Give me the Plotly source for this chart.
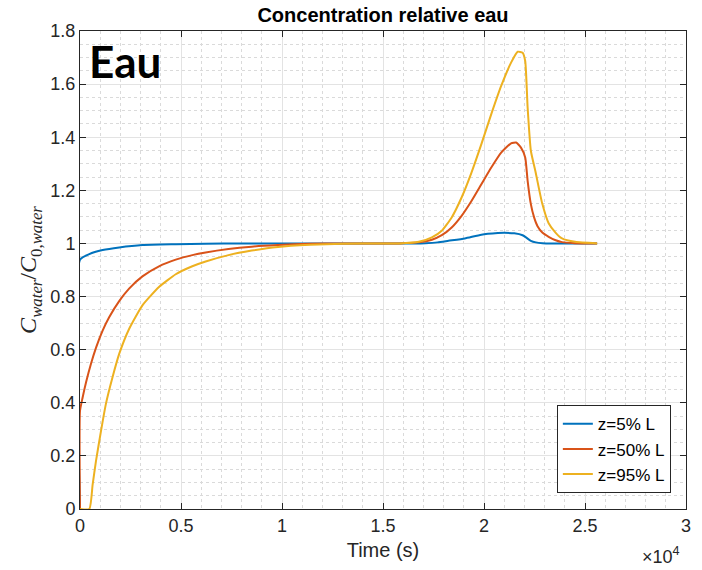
import plotly.graph_objects as go

# ---- data (time in s) ----
t_5 = [0, 0, 460, 1120, 1940, 3090, 4740, 6200, 8000, 10000, 15000, 16500, 17100, 17700,
       18240, 19050, 19870, 20690, 21010, 21500, 21910, 22075, 22320, 22565, 22900, 23400, 25600]
c_5 = [0, 0.939, 0.960, 0.975, 0.985, 0.994, 0.997, 0.999, 1.0, 1.0, 1.0, 1.0, 1.001, 1.004,
       1.010, 1.019, 1.033, 1.039, 1.040, 1.038, 1.031, 1.023, 1.010, 1.004, 1.001, 1.0, 1.0]

t_50 = [0, 0, 130, 300, 540, 790, 1120, 1450, 1940, 2430, 3090, 3910, 4740, 5560, 6220,
        7350, 8500, 9800, 11400, 13000, 15000, 15800, 16770, 17420, 17910, 18400, 18890, 19380,
        19870, 20360, 20850, 21340, 21590, 21830, 22040, 22160, 22320, 22480, 22650, 22900,
        23200, 23550, 23860, 24500, 25600]
c_50 = [0, 0.369, 0.42, 0.477, 0.546, 0.607, 0.672, 0.723, 0.783, 0.830, 0.876, 0.914, 0.939,
        0.956, 0.966, 0.979, 0.988, 0.994, 0.999, 1.0, 1.0, 1.0, 1.004, 1.014, 1.031, 1.060,
        1.104, 1.160, 1.223, 1.286, 1.342, 1.377, 1.380, 1.361, 1.324, 1.236, 1.148, 1.098,
        1.065, 1.040, 1.025, 1.012, 1.005, 1.001, 1.0]

t_95 = [0, 460, 625, 790, 1040, 1280, 1610, 1940, 2430, 3090, 3910, 4740, 5560, 6220, 7350,
        8500, 9800, 11400, 13000, 15000, 15800, 16770, 17420, 17910, 18400, 18890, 19380,
        19870, 20360, 20850, 21340, 21670, 21910, 22040, 22160, 22320, 22550, 22880, 23200,
        23550, 23860, 24510, 25600]
c_95 = [0, 0, 0.092, 0.180, 0.294, 0.395, 0.496, 0.584, 0.678, 0.767, 0.836, 0.884, 0.914,
        0.932, 0.956, 0.973, 0.987, 0.995, 0.999, 1.0, 1.0, 1.006, 1.023, 1.048, 1.098, 1.173,
        1.267, 1.374, 1.487, 1.593, 1.681, 1.722, 1.718, 1.687, 1.512, 1.349, 1.270, 1.151,
        1.076, 1.040, 1.019, 1.006, 1.0]

series_names = ["z=5% L", "z=50% L", "z=95% L"]
series_colors = ["#0072BD", "#D95319", "#EDB120"]

x_tickvals = [0, 5000, 10000, 15000, 20000, 25000, 30000]
x_ticktext = ["0", "0.5", "1", "1.5", "2", "2.5", "3"]
y_tickvals = [0, 0.2, 0.4, 0.6, 0.8, 1.0, 1.2, 1.4, 1.6, 1.8]
y_ticktext = ["0", "0.2", "0.4", "0.6", "0.8", "1", "1.2", "1.4", "1.6", "1.8"]

fig = go.Figure()
for t, c, name, col in zip([t_5, t_50, t_95], [c_5, c_50, c_95], series_names, series_colors):
    fig.add_trace(go.Scatter(x=t, y=c, mode="lines", name=name,
                             line=dict(color=col, width=2, shape="spline", smoothing=0.5)))

axis_common = dict(
    showline=True, linecolor="#262626", linewidth=1, mirror="ticks",
    ticks="inside", ticklen=6, tickcolor="#262626", tickwidth=1,
    showgrid=True, gridcolor="#e3e3e3", gridwidth=1, zeroline=False,
    tickfont=dict(family="Liberation Sans, Arial", size=18, color="#262626"),
)

fig.update_layout(
    width=702, height=570,
    margin=dict(l=80, r=11, t=31, b=61),
    paper_bgcolor="white", plot_bgcolor="white",
    title=dict(text="<b>Concentration relative eau</b>", x=0.5, xref="paper",
               y=1 - 15 / 570, yref="container", xanchor="center", yanchor="middle",
               font=dict(family="Liberation Sans, Arial", size=20, color="black")),
    xaxis=dict(range=[0, 30000], tickvals=x_tickvals, ticktext=x_ticktext,
               title=dict(text="Time (s)", standoff=8,
                          font=dict(family="Liberation Sans, Arial", size=20, color="#262626")),
               minor=dict(dtick=1000, tick0=0, showgrid=True, gridcolor="#dadada",
                          griddash="dot", ticks=""),
               **axis_common),
    yaxis=dict(range=[0, 1.8], tickvals=y_tickvals, ticktext=y_ticktext,
               title=dict(text="<i>C</i><sub><i>water</i></sub>/<i>C</i><sub>0,<i>water</i></sub>",
                          standoff=6,
                          font=dict(family="Liberation Serif, Times New Roman", size=24, color="#262626")),
               minor=dict(dtick=0.05, tick0=0, showgrid=True, gridcolor="#dadada",
                          griddash="dot", ticks=""),
               **axis_common),
    legend=dict(x=0.975, y=0.033, xanchor="right", yanchor="bottom",
                bgcolor="white", bordercolor="#262626", borderwidth=1,
                font=dict(family="Liberation Sans, Arial", size=17, color="black"),
                tracegroupgap=0),
    showlegend=True,
)

fig.add_annotation(text="<b>Eau</b>", xref="paper", yref="paper", x=0.012, y=0.938,
                   xanchor="left", yanchor="middle", showarrow=False,
                   font=dict(family="Lato, Open Sans", size=44, color="black"))
fig.add_annotation(text="×10<sup>4</sup>", xref="paper", yref="paper", x=0.958, y=-0.098,
                   xanchor="center", yanchor="middle", showarrow=False,
                   font=dict(family="Liberation Sans, Arial", size=18, color="#262626"))

fig.write_html("out.html")
